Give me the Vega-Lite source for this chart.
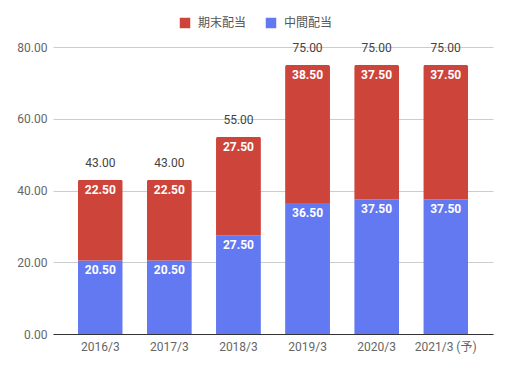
{
  "$schema": "https://vega.github.io/schema/vega-lite/v6.json",
  "width": 440,
  "height": 287,
  "autosize": "none",
  "padding": {"left": 53, "top": 47, "right": 16, "bottom": 35},
  "config": {
    "font": "Roboto, 'Noto Sans CJK JP'",
    "view": {"stroke": null},
    "axis": {"labelFont": "Roboto, 'Noto Sans CJK JP'", "labelFontSize": 12, "labelColor": "#666666"},
    "legend": {"labelFont": "Roboto, 'Noto Sans CJK JP'"}
  },
  "data": {
    "values": [
      {"year": "2016/3", "type": "中間配当", "ord": 1, "value": 20.5},
      {"year": "2016/3", "type": "期末配当", "ord": 2, "value": 22.5},
      {"year": "2017/3", "type": "中間配当", "ord": 1, "value": 20.5},
      {"year": "2017/3", "type": "期末配当", "ord": 2, "value": 22.5},
      {"year": "2018/3", "type": "中間配当", "ord": 1, "value": 27.5},
      {"year": "2018/3", "type": "期末配当", "ord": 2, "value": 27.5},
      {"year": "2019/3", "type": "中間配当", "ord": 1, "value": 36.5},
      {"year": "2019/3", "type": "期末配当", "ord": 2, "value": 38.5},
      {"year": "2020/3", "type": "中間配当", "ord": 1, "value": 37.5},
      {"year": "2020/3", "type": "期末配当", "ord": 2, "value": 37.5},
      {"year": "2021/3 (予)", "type": "中間配当", "ord": 1, "value": 37.5},
      {"year": "2021/3 (予)", "type": "期末配当", "ord": 2, "value": 37.5}
    ]
  },
  "encoding": {
    "x": {
      "field": "year", "type": "nominal", "sort": null,
      "scale": {"paddingInner": 0.35, "paddingOuter": 0.36},
      "axis": {"title": null, "labelAngle": 0, "ticks": false, "labelPadding": 7, "domainColor": "#333333", "grid": false}
    }
  },
  "layer": [
    {
      "mark": {"type": "bar", "cornerRadiusTopLeft": 2, "cornerRadiusTopRight": 2},
      "encoding": {
        "y": {
          "field": "value", "type": "quantitative", "stack": "zero",
          "scale": {"domain": [0, 80], "nice": false},
          "axis": {"title": null, "values": [0, 20, 40, 60, 80], "labelOverlap": false, "labelFlush": false, "format": ".2f", "ticks": false, "domain": false, "labelPadding": 6, "gridColor": "#cccccc"}
        },
        "color": {
          "field": "type", "type": "nominal",
          "scale": {"domain": ["期末配当", "中間配当"], "range": ["#cd443b", "#6379f2"]},
          "legend": {
            "title": null, "orient": "none", "direction": "horizontal",
            "legendX": 126, "legendY": -30,
            "symbolType": "square", "symbolSize": 110, "symbolStrokeWidth": 0,
            "labelFontSize": 12, "labelColor": "#555555", "labelOffset": 7, "columnPadding": 18
          }
        },
        "order": {"field": "ord", "type": "quantitative"}
      }
    },
    {
      "mark": {"type": "text", "color": "white", "fontWeight": "bold", "fontSize": 12, "baseline": "middle", "dy": 10},
      "encoding": {
        "y": {"field": "value", "type": "quantitative", "stack": "zero"},
        "text": {"field": "value", "type": "quantitative", "format": ".2f"},
        "detail": {"field": "type"},
        "order": {"field": "ord", "type": "quantitative"}
      }
    },
    {
      "mark": {"type": "text", "color": "#444444", "fontSize": 12, "baseline": "middle", "dy": -17},
      "encoding": {
        "y": {"aggregate": "sum", "field": "value", "type": "quantitative"},
        "text": {"aggregate": "sum", "field": "value", "type": "quantitative", "format": ".2f"}
      }
    }
  ]
}
